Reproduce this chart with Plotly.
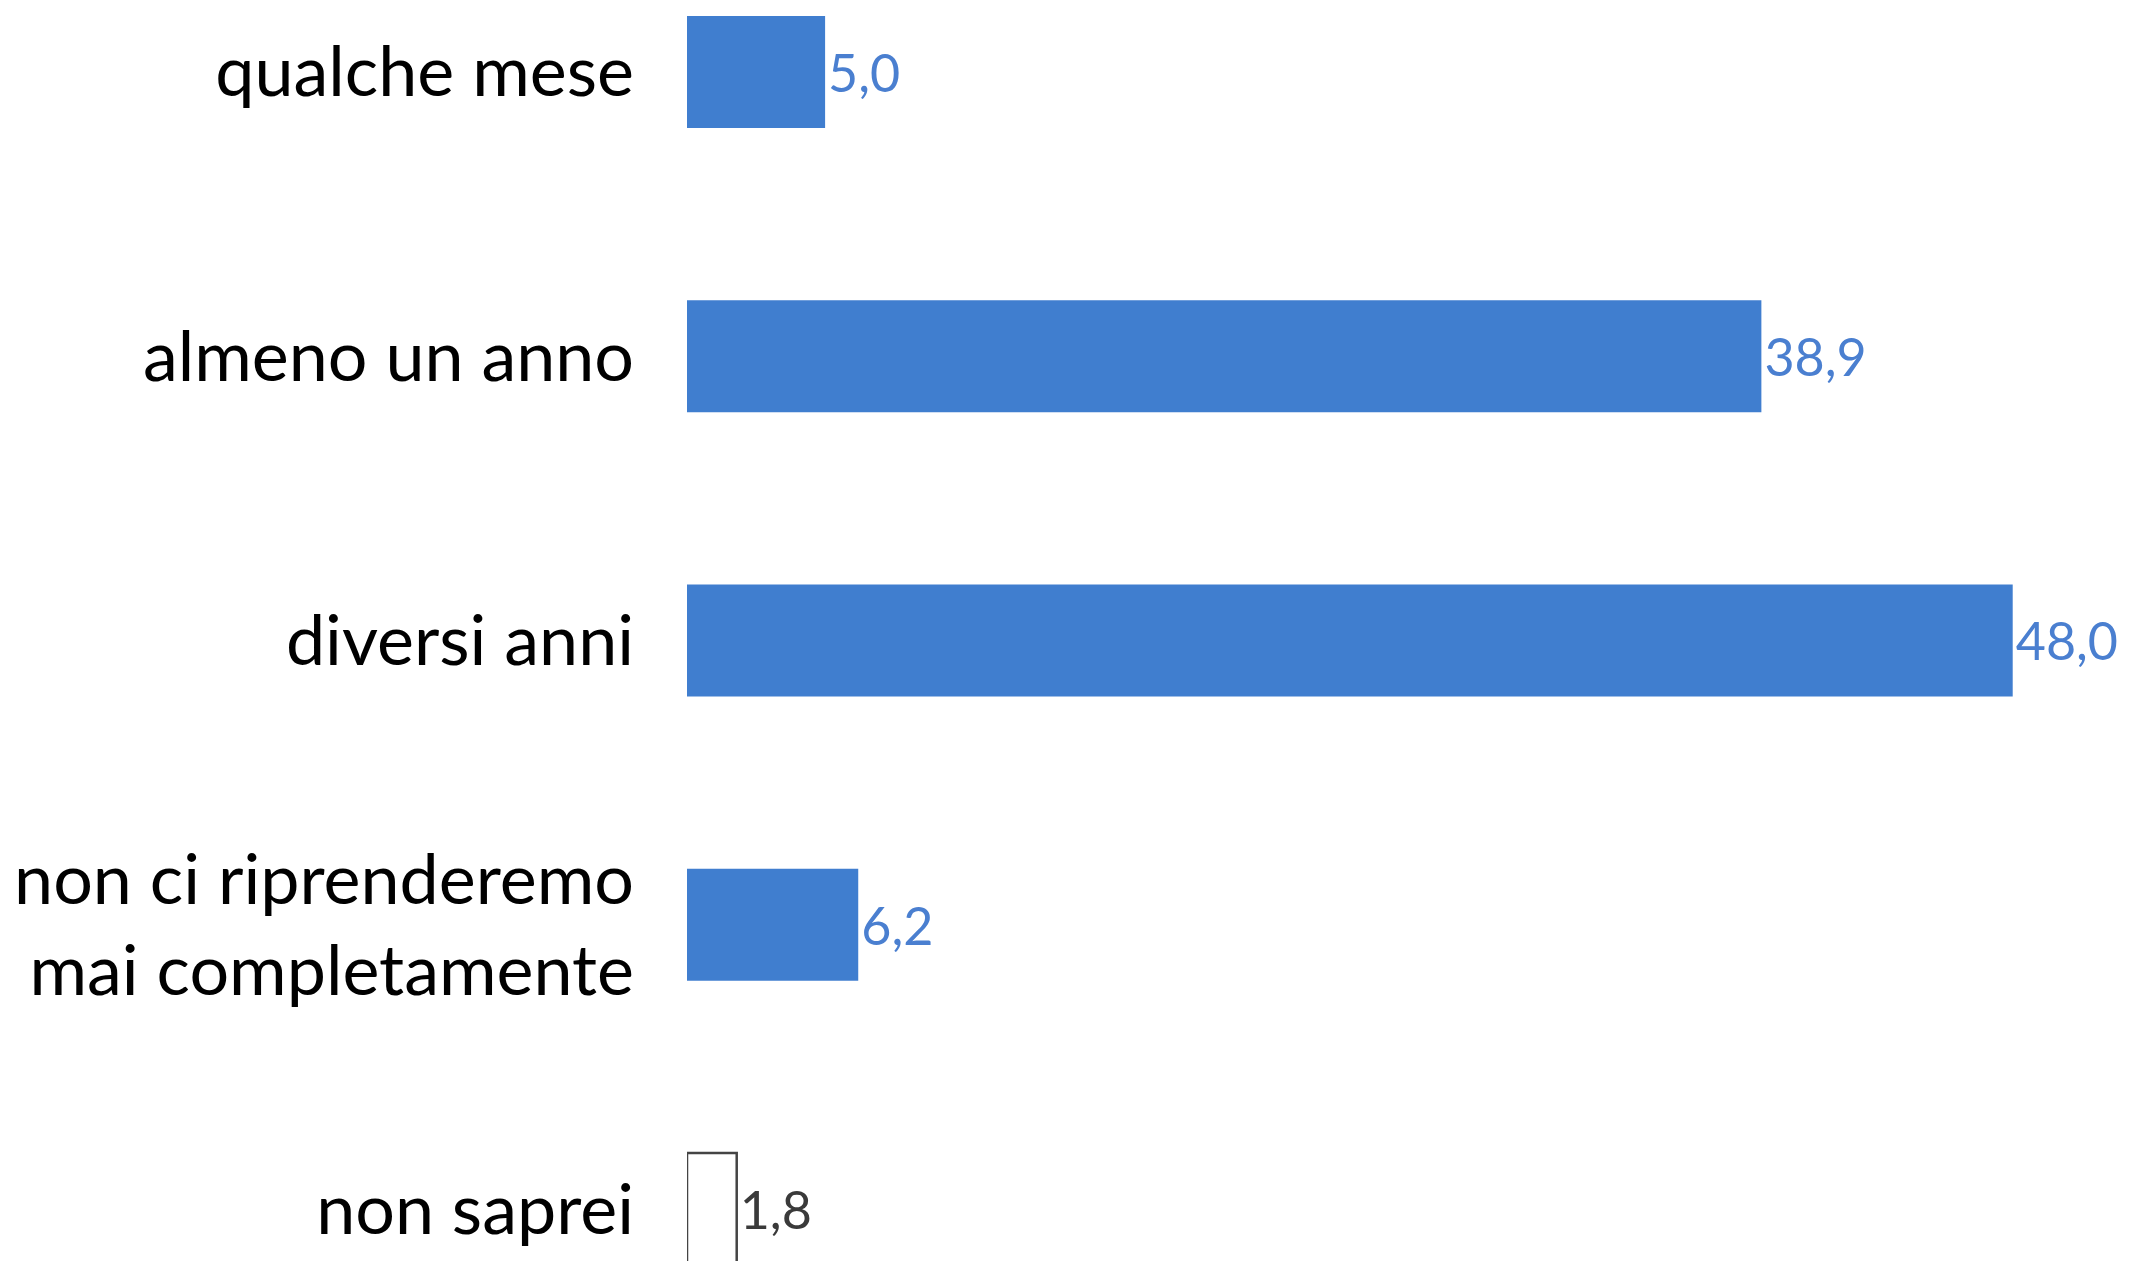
import plotly.graph_objects as go

categories = ["qualche mese", "almeno un anno", "diversi anni",
              "non ci riprenderemo<br>mai completamente", "non saprei"]
values = [5.0, 38.9, 48.0, 6.2, 1.8]
fill_colors = ["#407ECF", "#407ECF", "#407ECF", "#407ECF", "#FFFFFF"]
line_colors = ["#407ECF", "#407ECF", "#407ECF", "#407ECF", "#444444"]
line_widths = [0, 0, 0, 0, 2.5]
text_colors = ["#4A7FD0", "#4A7FD0", "#4A7FD0", "#4A7FD0", "#3A3A3A"]

fig = go.Figure(go.Bar(
    y=categories, x=values, orientation="h",
    marker=dict(color=fill_colors, line=dict(color=line_colors, width=line_widths)),
    texttemplate="%{x:.1f}", textposition="outside", cliponaxis=False,
    textfont=dict(family="Lato", size=52, color=text_colors),
    width=0.394,
))

fig.update_layout(
    width=2129, height=1261,
    margin=dict(l=679, r=0, t=0, b=0, autoexpand=False),
    paper_bgcolor="white", plot_bgcolor="white",
    separators=", ",
    showlegend=False,
    xaxis=dict(range=[0, 52.5], visible=False, automargin=False),
    yaxis=dict(type="category", range=[4.211, -0.225], showgrid=False,
               showline=False, zeroline=False, ticks="", automargin=False,
               ticklabelstandoff=52,
               tickfont=dict(family="Lato", size=70, color="#000000")),
)

fig.write_html("out.html")
